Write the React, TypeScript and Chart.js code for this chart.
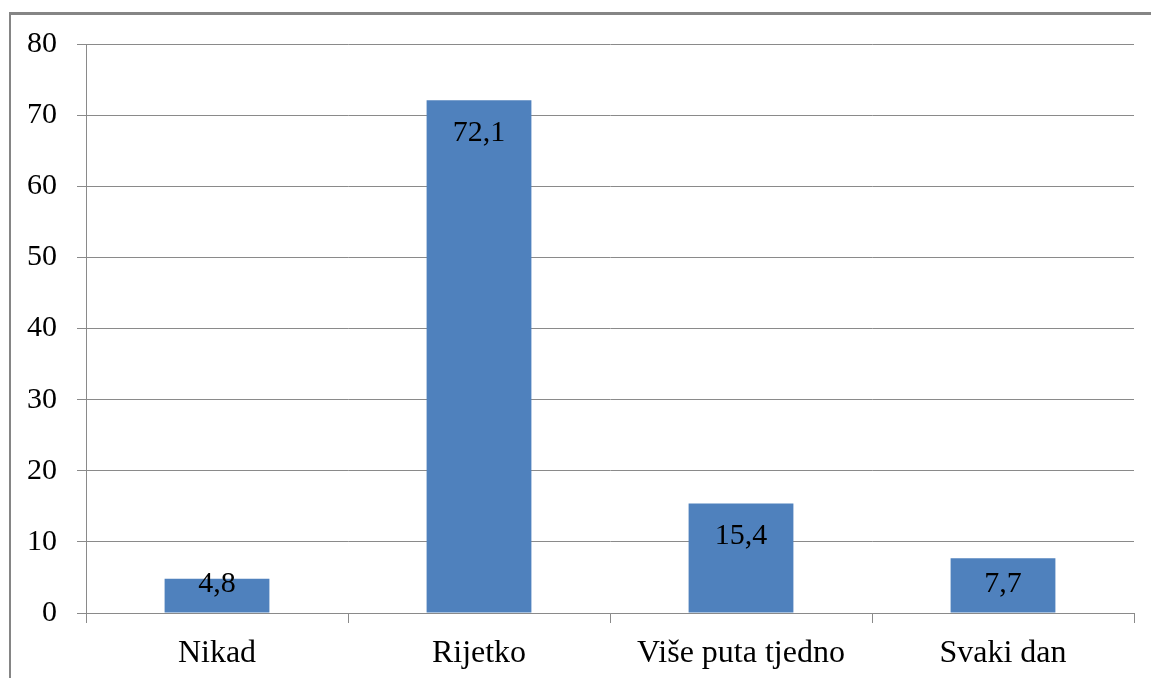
import React, { useEffect, useRef } from "react";
import { Chart, registerables } from "chart.js";

Chart.register(...registerables);

const categories = ["Nikad", "Rijetko", "Više puta tjedno", "Svaki dan"];
const values = [4.8, 72.1, 15.4, 7.7];
const valueLabels = ["4,8", "72,1", "15,4", "7,7"];
const yTicks = [0, 10, 20, 30, 40, 50, 60, 70, 80];

const FONT = "'Liberation Serif', 'Times New Roman', serif";
const GRID = "#8a8a8a";

const labelPlugin = {
  id: "barValueLabels",
  afterDatasetsDraw(chart: any) {
    const ctx = chart.ctx;
    const meta = chart.getDatasetMeta(0);
    ctx.save();
    ctx.font = `30px ${FONT}`;
    ctx.fillStyle = "#000";
    ctx.textAlign = "center";
    ctx.textBaseline = "middle";
    meta.data.forEach((bar: any, i: number) => {
      const y = Math.min(bar.y + 33, bar.base - 28);
      ctx.fillText(valueLabels[i], bar.x, y);
    });
    ctx.restore();
  },
};

export default function App() {
  const ref = useRef<HTMLCanvasElement>(null);
  useEffect(() => {
    if (!ref.current) return;
    const chart = new Chart(ref.current, {
      type: "bar",
      data: {
        labels: categories,
        datasets: [
          {
            data: values,
            backgroundColor: "#4F81BD",
            borderWidth: 0,
            categoryPercentage: 1,
            barPercentage: 0.4,
          },
        ],
      },
      options: {
        animation: false,
        responsive: false,
        maintainAspectRatio: false,
        devicePixelRatio: 1,
        layout: { padding: { left: 0, right: 17, top: 44, bottom: 0 } },
        plugins: { legend: { display: false }, tooltip: { enabled: false } },
        scales: {
          x: {
            offset: true,
            grid: {
              offset: true,
              drawOnChartArea: false,
              drawTicks: true,
              tickLength: 10,
              color: GRID,
            },
            border: { display: true, color: GRID },
            ticks: {
              color: "#000",
              font: { family: FONT, size: 32 },
              padding: 11,
              maxRotation: 0,
              autoSkip: false,
            },
            afterFit(scale: any) {
              scale.height = 65;
            },
          },
          y: {
            min: 0,
            max: 80,
            afterBuildTicks(scale: any) {
              scale.ticks = yTicks.map((v) => ({ value: v }));
            },
            grid: { color: GRID, tickLength: 9, drawTicks: true },
            border: { display: true, color: GRID },
            ticks: {
              color: "#000",
              font: { family: FONT, size: 30 },
              padding: 20,
            },
            afterFit(scale: any) {
              scale.width = 86;
            },
          },
        },
      },
      plugins: [labelPlugin],
    });
    return () => chart.destroy();
  }, []);

  return (
    <div
      style={{
        position: "fixed",
        left: 0,
        top: 0,
        width: 1151,
        height: 678,
        overflow: "hidden",
        background: "#fff",
      }}
    >
      <div
        style={{
          position: "absolute",
          left: 9,
          top: 12,
          right: -10,
          bottom: -10,
          borderLeft: "2px solid #858585",
          borderTop: "3px solid #858585",
        }}
      />
      <canvas
        ref={ref}
        width={1151}
        height={678}
        style={{ position: "absolute", left: 0, top: 0, width: 1151, height: 678 }}
      />
    </div>
  );
}
